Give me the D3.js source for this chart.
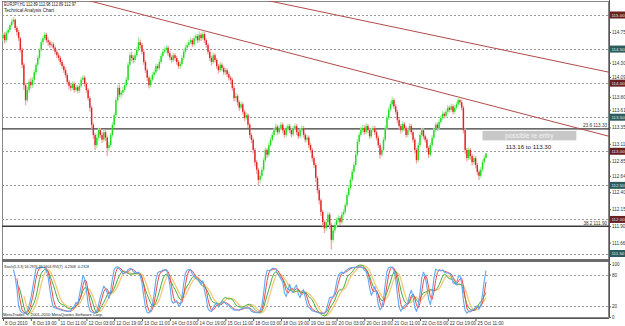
<!DOCTYPE html>
<html><head><meta charset="utf-8">
<script src="https://cdn.jsdelivr.net/npm/d3@7"></script>
<style>
body{margin:0;background:#fff}
svg{display:block}
text{font-family:"Liberation Sans",Arial,sans-serif}
</style>
</head><body>
<svg id="c" width="625" height="326"></svg>
<script>
// ---------------- DATA ----------------
const firstOpen = 114.66;
const closes = [
114.71,114.63,114.74,114.78,114.85,114.90,114.93,114.81,114.75,114.66,
114.49,114.27,113.97,113.75,113.90,114.02,113.97,114.05,114.16,114.27,
114.37,114.49,114.60,114.66,114.71,114.63,114.60,114.56,114.57,114.52,
114.46,114.41,114.37,114.31,114.25,114.19,114.12,114.02,113.96,113.93,
113.99,113.90,113.94,113.89,113.96,114.05,114.08,113.99,113.90,113.78,
113.64,113.39,113.24,113.09,113.20,113.31,113.24,113.17,113.28,113.20,
113.05,113.09,113.24,113.39,113.53,113.75,113.93,113.83,113.86,113.90,
113.97,114.05,114.27,114.41,114.37,114.34,114.41,114.49,114.60,114.56,
114.46,114.31,114.19,114.08,113.97,114.05,114.12,114.16,114.25,114.22,
114.31,114.40,114.46,114.49,114.52,114.44,114.38,114.34,114.41,114.37,
114.31,114.25,114.28,114.37,114.46,114.52,114.56,114.60,114.63,114.57,
114.66,114.69,114.63,114.71,114.66,114.72,114.63,114.56,114.46,114.37,
114.31,114.41,114.34,114.25,114.19,114.27,114.22,114.16,114.19,114.13,
114.08,114.05,113.93,113.78,113.81,113.72,113.64,113.69,113.58,113.49,
113.53,113.39,113.24,113.17,113.02,112.84,112.73,112.58,112.64,112.73,
112.87,113.02,112.95,113.09,113.17,113.24,113.31,113.36,113.28,113.34,
113.39,113.31,113.24,113.34,113.37,113.31,113.25,113.34,113.37,113.28,
113.22,113.31,113.34,113.24,113.17,113.20,113.09,113.02,112.90,112.80,
112.61,112.43,112.28,112.11,111.96,111.87,111.96,112.07,111.92,111.70,
111.84,111.92,111.99,112.02,111.96,112.07,112.11,112.21,112.36,112.46,
112.58,112.70,112.80,112.95,113.14,113.24,113.31,113.34,113.28,113.37,
113.31,113.22,113.31,113.34,113.28,113.20,113.09,112.95,113.02,113.17,
113.34,113.49,113.61,113.69,113.75,113.66,113.58,113.46,113.37,113.31,
113.40,113.34,113.24,113.31,113.37,113.28,113.17,113.02,112.87,113.09,
113.24,113.31,113.22,113.17,113.05,112.95,113.09,113.20,113.31,113.39,
113.34,113.43,113.49,113.55,113.52,113.58,113.64,113.61,113.66,113.58,
113.64,113.69,113.75,113.72,113.64,113.31,113.02,112.90,113.02,112.93,
112.84,112.90,112.80,112.70,112.64,112.73,112.84,112.90,112.97];
const highs = [
114.74,114.75,114.77,114.82,114.88,114.94,114.97,114.95,114.84,114.78,
114.68,114.52,114.30,114.00,113.95,114.06,114.08,114.09,114.20,114.30,
114.41,114.52,114.64,114.70,114.75,114.74,114.67,114.63,114.61,114.60,
114.55,114.50,114.45,114.40,114.34,114.28,114.23,114.15,114.05,114.00,
114.03,114.02,113.98,113.97,114.00,114.09,114.12,114.11,114.02,113.93,
113.81,113.67,113.42,113.27,113.25,113.35,113.34,113.28,113.32,113.31,
113.23,113.14,113.28,113.43,113.57,113.79,113.97,113.98,113.90,113.94,
114.01,114.09,114.31,114.45,114.46,114.41,114.45,114.53,114.68,114.64,
114.59,114.49,114.34,114.22,114.11,114.09,114.16,114.20,114.29,114.28,
114.35,114.44,114.50,114.53,114.56,114.55,114.47,114.41,114.45,114.44,
114.40,114.34,114.32,114.41,114.50,114.56,114.60,114.64,114.67,114.66,
114.70,114.73,114.72,114.76,114.74,114.77,114.75,114.66,114.59,114.49,
114.40,114.45,114.44,114.37,114.28,114.31,114.30,114.25,114.23,114.22,
114.17,114.11,114.08,113.96,113.86,113.84,113.75,113.73,113.72,113.61,
113.57,113.56,113.42,113.27,113.20,113.05,112.87,112.76,112.69,112.77,
112.91,113.06,113.05,113.13,113.21,113.28,113.35,113.41,113.39,113.38,
113.43,113.42,113.34,113.38,113.41,113.40,113.34,113.38,113.41,113.40,
113.31,113.35,113.38,113.37,113.27,113.24,113.23,113.12,113.05,112.93,
112.83,112.64,112.46,112.31,112.14,111.99,112.00,112.11,112.10,111.95,
111.88,111.96,112.03,112.06,112.05,112.11,112.15,112.25,112.40,112.50,
112.62,112.74,112.84,112.99,113.18,113.28,113.36,113.39,113.38,113.41,
113.40,113.34,113.35,113.38,113.37,113.31,113.23,113.12,113.06,113.21,
113.38,113.53,113.65,113.73,113.80,113.78,113.69,113.61,113.49,113.40,
113.44,113.43,113.37,113.35,113.41,113.40,113.31,113.20,113.05,113.13,
113.28,113.35,113.34,113.25,113.20,113.08,113.13,113.24,113.35,113.43,
113.42,113.47,113.53,113.59,113.58,113.62,113.68,113.67,113.70,113.69,
113.68,113.73,113.79,113.77,113.75,113.67,113.34,113.05,113.06,113.05,
112.96,112.94,112.93,112.83,112.73,112.77,112.88,112.94,112.98];
const lows = [
114.62,114.58,114.60,114.72,114.75,114.83,114.87,114.78,114.70,114.62,
114.45,114.22,113.90,113.68,113.72,113.86,113.92,113.93,114.02,114.12,
114.24,114.34,114.46,114.56,114.63,114.59,114.55,114.52,114.52,114.48,
114.42,114.37,114.33,114.27,114.21,114.15,114.08,113.98,113.91,113.88,
113.90,113.86,113.87,113.85,113.86,113.93,114.02,113.95,113.86,113.74,
113.58,113.33,113.18,113.02,113.05,113.16,113.19,113.12,113.14,113.15,
112.93,113.00,113.06,113.20,113.35,113.50,113.72,113.79,113.78,113.82,
113.87,113.94,114.02,114.24,114.32,114.29,114.30,114.38,114.46,114.51,
114.42,114.27,114.15,114.03,113.92,113.94,114.02,114.08,114.13,114.18,
114.19,114.28,114.37,114.43,114.45,114.40,114.34,114.30,114.31,114.33,
114.27,114.21,114.21,114.25,114.34,114.43,114.49,114.53,114.57,114.53,
114.54,114.62,114.59,114.60,114.62,114.63,114.59,114.52,114.42,114.33,
114.26,114.28,114.30,114.21,114.14,114.16,114.18,114.12,114.12,114.09,
114.04,114.00,113.89,113.73,113.74,113.67,113.59,113.61,113.54,113.44,
113.46,113.34,113.19,113.12,112.97,112.78,112.67,112.50,112.53,112.60,
112.70,112.84,112.90,112.92,113.06,113.14,113.21,113.28,113.24,113.25,
113.31,113.27,113.20,113.21,113.30,113.27,113.21,113.22,113.31,113.24,
113.18,113.19,113.28,113.20,113.13,113.13,113.05,112.98,112.85,112.75,
112.55,112.38,112.22,112.05,111.90,111.80,111.83,111.92,111.86,111.56,
111.66,111.80,111.88,111.95,111.92,111.93,112.03,112.08,112.18,112.33,
112.43,112.55,112.67,112.77,112.92,113.10,113.21,113.27,113.24,113.25,
113.27,113.18,113.19,113.28,113.24,113.16,113.05,112.89,112.92,112.99,
113.14,113.31,113.46,113.58,113.66,113.62,113.54,113.41,113.32,113.26,
113.28,113.30,113.20,113.21,113.28,113.24,113.13,112.97,112.82,112.84,
113.06,113.21,113.18,113.13,113.00,112.90,112.92,113.06,113.17,113.28,
113.30,113.31,113.40,113.46,113.48,113.49,113.55,113.57,113.58,113.54,
113.55,113.61,113.66,113.68,113.60,113.26,112.96,112.85,112.87,112.88,
112.79,112.81,112.75,112.65,112.58,112.61,112.70,112.81,112.89];

const timeLabels = ["8 Oct 2010","8 Oct 19:00","11 Oct 11:00","12 Oct 03:00","12 Oct 19:00",
  "13 Oct 11:00","14 Oct 03:00","14 Oct 19:00","15 Oct 11:00","18 Oct 03:00","18 Oct 19:00",
  "19 Oct 11:00","20 Oct 03:00","20 Oct 19:00","21 Oct 11:00","22 Oct 03:00","22 Oct 19:00","25 Oct 11:00"];
const timeLabelBars = [0,16,32,48,64,80,96,112,128,144,160,176,192,208,224,240,256,272];
const priceTicks = [114.75,114.30,114.09,113.80,113.61,113.35,113.11,112.85,112.64,112.40,112.15,111.90,111.66];
const levelPrices = [115.00,114.50,114.00,113.50,113.00,112.50,112.00,111.50];
const fibPct = ["23.6","38.2"];
const fibPrice = [113.33,111.90];
const trendFromBar = [150.8, 49.5];
const trendFromPrice = [115.22, 115.21];
const trendToBar = [348.8, 348.8];
const trendToPrice = [114.16, 113.22];
const zoneBars = [276, 330];
const zonePrices = [113.16, 113.30];
const zoneTitle = "possible re entry";
const zoneNote = "113.16 to 113.30";
const stochTicks = [0,20,80,100];
const stochLevels = [20,80];
const titleLine = "EURJPY,H1  112.89 112.98 112.89 112.97";
const subTitle = "Technical Analysis Chart";
const indTitle = "Stoch(5,3,3) 56.2976 38.5604  RVI(7) -0.2308 -0.2318";
const copyright = "MetaTrader, \u00a9 2001-2010 MetaQuotes Software Corp.";

// ---------------- LAYOUT ----------------
const svg = d3.select("#c");
const L = 2, R = 609, mainT = 1, mainB = 259, subT = 262, subB = 318;
const n = closes.length;
const opens = closes.map((c,i)=> i===0 ? firstOpen : closes[i-1]);
const x = d3.scaleLinear().domain([0, n-1]).range([3, 486]);
const y = d3.scaleLinear().domain([111.5, 115.0]).range([253.5, 15]);
const ys = d3.scaleLinear().domain([0, 100]).range([317, 264]);

const defs = svg.append("defs");
defs.append("clipPath").attr("id","cm").append("rect").attr("x",L).attr("y",mainT).attr("width",R-L).attr("height",mainB-mainT);
defs.append("clipPath").attr("id","cs").append("rect").attr("x",L).attr("y",subT).attr("width",R-L).attr("height",subB-subT);

// frame
svg.append("rect").attr("x",L+0.5).attr("y",mainT+0.5).attr("width",R-L-1).attr("height",subB-mainT-1)
  .attr("fill","none").attr("stroke","#6a6a6a").attr("stroke-width",0.8);
svg.append("rect").attr("x",L).attr("y",mainB).attr("width",R-L).attr("height",subT-mainB).attr("fill","#6c6c6c");

const gm = svg.append("g").attr("clip-path","url(#cm)");

// dotted horizontal levels
gm.selectAll("line.lvl").data(levelPrices).join("line").attr("class","lvl")
  .attr("x1",L).attr("x2",R).attr("y1",d=>Math.round(y(d))+0.5).attr("y2",d=>Math.round(y(d))+0.5)
  .attr("stroke","#8c8c8c").attr("stroke-width",0.9).attr("stroke-dasharray","2,2");

// fib lines
gm.selectAll("line.fib").data(fibPrice).join("line").attr("class","fib")
  .attr("x1",L).attr("x2",R).attr("y1",d=>y(d)).attr("y2",d=>y(d))
  .attr("stroke","#3a3a3a").attr("stroke-width",1.3);
gm.selectAll("text.fib").data(fibPrice).join("text").attr("class","fib")
  .attr("x",R-2).attr("y",d=>y(d)-1.5).attr("text-anchor","end")
  .attr("font-size",4.6).attr("fill","#333")
  .text((d,i)=>fibPct[i]+"  "+d.toFixed(2));

// zone
gm.append("rect").attr("x",x(zoneBars[0])).attr("width",x(zoneBars[1])-x(zoneBars[0]))
  .attr("y",y(zonePrices[1])).attr("height",y(zonePrices[0])-y(zonePrices[1])).attr("fill","#c8c8c8");
gm.append("text").attr("x",(x(zoneBars[0])+x(zoneBars[1]))/2).attr("y",y(zonePrices[0])-2)
  .attr("text-anchor","middle").attr("font-size",6.6).attr("fill","#f4f4f4").text(zoneTitle);
gm.append("text").attr("x",(x(zoneBars[0])+x(zoneBars[1]))/2 - 1).attr("y",y(zonePrices[0])+9)
  .attr("text-anchor","middle").attr("font-size",6.2).attr("fill","#222").text(zoneNote);

// trend lines
gm.selectAll("line.tr").data(trendFromBar).join("line").attr("class","tr")
  .attr("x1",(d,i)=>x(trendFromBar[i])).attr("y1",(d,i)=>y(trendFromPrice[i]))
  .attr("x2",(d,i)=>x(trendToBar[i])).attr("y2",(d,i)=>y(trendToPrice[i]))
  .attr("stroke","#b24a4a").attr("stroke-width",1);

// candles
const idx = d3.range(n);
const up = i => closes[i] >= opens[i];
gm.selectAll("line.wick").data(idx).join("line").attr("class","wick")
  .attr("x1",i=>x(i)).attr("x2",i=>x(i)).attr("y1",i=>y(highs[i])).attr("y2",i=>y(lows[i]))
  .attr("stroke",i=>up(i)?"#a6f0a6":"#f4a6a6").attr("stroke-width",1.3);
gm.selectAll("rect.body").data(idx).join("rect").attr("class","body")
  .attr("x",i=>x(i)-0.7).attr("width",1.4)
  .attr("y",i=>y(Math.max(opens[i],closes[i])))
  .attr("height",i=>Math.max(1,Math.abs(y(opens[i])-y(closes[i]))))
  .attr("fill",i=>up(i)?"#1fdc1f":"#e42424");

// titles
svg.append("text").attr("x",4).attr("y",6).attr("font-size",4.6).attr("fill","#222")
  .attr("textLength",72).attr("lengthAdjust","spacingAndGlyphs").text(titleLine);
svg.append("text").attr("x",4).attr("y",12).attr("font-size",4.8).attr("fill","#222")
  .attr("textLength",50).attr("lengthAdjust","spacingAndGlyphs").text(subTitle);

// right price axis
const ay = svg.append("g").attr("transform",`translate(${R},0)`)
  .call(d3.axisRight(y).tickValues(priceTicks).tickFormat(d3.format(".2f")).tickSize(2));
ay.select(".domain").remove();
ay.selectAll("line").attr("stroke","#555");
ay.selectAll("text").attr("font-size",4.6).attr("fill","#333").attr("x",3).attr("font-family","Liberation Sans, Arial, sans-serif");
svg.append("line").attr("x1",R+0.5).attr("x2",R+0.5).attr("y1",0).attr("y2",subB).attr("stroke","#555").attr("stroke-width",1);

// level boxes
const boxes = svg.append("g");
boxes.selectAll("rect").data(levelPrices).join("rect")
  .attr("x",R+1).attr("width",15).attr("y",d=>y(d)-3.5).attr("height",7)
  .attr("fill",(d,i)=>i%2===0?"#6b2020":"#2e5c5c");
boxes.selectAll("text").data(levelPrices).join("text")
  .attr("x",R+2.5).attr("y",d=>y(d)+1.7).attr("font-size",4.4).attr("fill","#e8e8e8")
  .text(d=>d.toFixed(2));

// ---------------- SUB WINDOW (Stoch + RVI) ----------------
const gs = svg.append("g").attr("clip-path","url(#cs)");
gs.selectAll("line.sl").data(stochLevels).join("line").attr("class","sl")
  .attr("x1",L).attr("x2",R).attr("y1",d=>Math.round(ys(d))+0.5).attr("y2",d=>Math.round(ys(d))+0.5)
  .attr("stroke","#8c8c8c").attr("stroke-width",0.9).attr("stroke-dasharray","2,2");

// Stochastic(5,3,3)
const K=5, SL=3, D=3;
const num = idx.map(i=> i<K-1?null: closes[i]-d3.min(lows.slice(i-K+1,i+1)));
const den = idx.map(i=> i<K-1?null: d3.max(highs.slice(i-K+1,i+1))-d3.min(lows.slice(i-K+1,i+1)));
const stMain = idx.map(i=>{ if(i<K-1+SL-1) return null;
  const a=d3.sum(num.slice(i-SL+1,i+1)), b=d3.sum(den.slice(i-SL+1,i+1)); return b>0?100*a/b:100; });
const stSig = idx.map(i=>{ if(i<K-1+SL-1+D-1) return null; return d3.mean(stMain.slice(i-D+1,i+1)); });
// RVI(7)
const co = idx.map(i=>closes[i]-opens[i]), hl = idx.map(i=>highs[i]-lows[i]);
const vN = idx.map(i=> i<3?null:(co[i]+2*co[i-1]+2*co[i-2]+co[i-3])/6);
const vD = idx.map(i=> i<3?null:(hl[i]+2*hl[i-1]+2*hl[i-2]+hl[i-3])/6);
const rvi = idx.map(i=> i<9?null: d3.sum(vN.slice(i-6,i+1))/d3.sum(vD.slice(i-6,i+1)));
const rviSig = idx.map(i=> i<12?null:(rvi[i]+2*rvi[i-1]+2*rvi[i-2]+rvi[i-3])/6);
const rext = d3.extent(rvi.concat(rviSig).filter(v=>v!==null));
const yr = d3.scaleLinear().domain(rext).range([subB-2, subT+3]);

const ln = sc => d3.line().defined(d=>d!==null).x((d,i)=>x(i)).y(d=>sc(d)).curve(d3.curveLinear);
function drawLine(arr, sc, color, w){
  gs.append("path").datum(arr).attr("fill","none").attr("stroke",color).attr("stroke-width",w)
    .attr("stroke-linejoin","round").attr("d", ln(sc));
}
drawLine(rviSig, yr, "#f6c878", 1.3);
drawLine(rvi, yr, "#3fae3f", 1);
drawLine(stSig, ys, "#f04848", 1);
drawLine(stMain, ys, "#5ea8f4", 1.1);

svg.append("text").attr("x",4).attr("y",268).attr("font-size",4.3).attr("fill","#222")
  .attr("textLength",85).attr("lengthAdjust","spacingAndGlyphs").text(indTitle);
svg.append("text").attr("x",3).attr("y",316).attr("font-size",4.4).attr("fill","#222")
  .attr("textLength",100).attr("lengthAdjust","spacingAndGlyphs").text(copyright);

const as = svg.append("g").attr("transform",`translate(${R},0)`)
  .call(d3.axisRight(ys).tickValues(stochTicks).tickFormat(d3.format("d")).tickSize(2));
as.select(".domain").remove();
as.selectAll("line").attr("stroke","#555");
as.selectAll("text").attr("font-size",4.6).attr("fill","#333").attr("x",3).attr("font-family","Liberation Sans, Arial, sans-serif");

// ---------------- TIME AXIS ----------------
svg.append("line").attr("x1",L).attr("x2",R).attr("y1",subB+0.5).attr("y2",subB+0.5).attr("stroke","#555");
const ax = svg.append("g").attr("transform",`translate(0,${subB})`)
  .call(d3.axisBottom(x).tickValues(timeLabelBars).tickFormat((d,i)=>timeLabels[i]).tickSize(3));
ax.select(".domain").remove();
ax.selectAll("line").attr("stroke","#555");
ax.selectAll("text").attr("font-size",4.6).attr("fill","#333").attr("text-anchor","start")
  .attr("x",1.5).attr("y",4).attr("dy","0.71em").attr("font-family","Liberation Sans, Arial, sans-serif");
</script>
</body></html>
